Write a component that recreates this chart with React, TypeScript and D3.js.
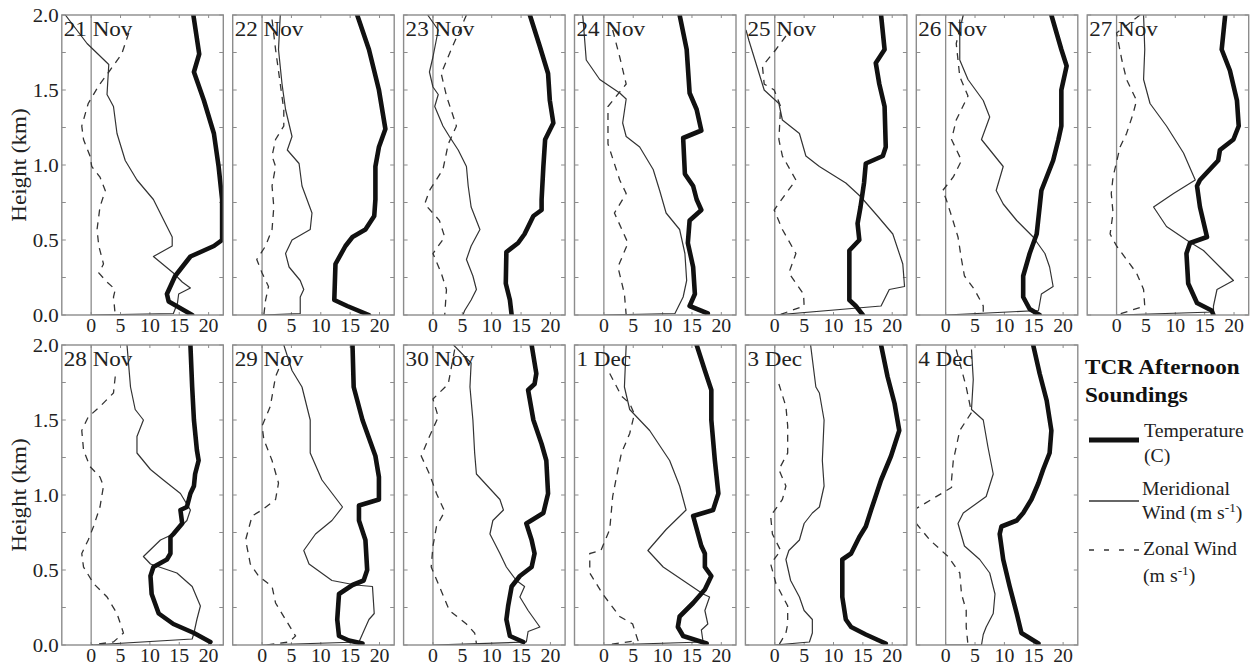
import * as d3 from "d3";

type Pt = [number, number]; // [height km, value]

// --- Data ---

const dates = [
  "21 Nov", "22 Nov", "23 Nov", "24 Nov", "25 Nov", "26 Nov", "27 Nov",
  "28 Nov", "29 Nov", "30 Nov", "1 Dec", "3 Dec", "4 Dec",
];

const xTicks = [0, 5, 10, 15, 20];
const yTicks = [0, 0.5, 1.0, 1.5, 2.0];

const temperature: Pt[][] = [
  [[2,17.4],[1.74,18.4],[1.62,17.5],[1.43,19.2],[1.21,20.9],[0.99,21.7],[0.77,22.3],[0.5,22.3],[0.46,20.9],[0.39,16.9],[0.32,15.5],[0.26,14.3],[0.14,12.9],[0.09,13.2],[0,17.2]],
  [[2,16.2],[1.77,18.2],[1.5,19.9],[1.24,21.0],[1.12,19.9],[0.99,19.3],[0.77,19.3],[0.66,19.1],[0.57,17.6],[0.52,15.4],[0.46,14.2],[0.34,12.5],[0.1,12.3],[0.06,14.5],[0,18.2]],
  [[2,16.5],[1.79,18.2],[1.61,19.6],[1.43,19.9],[1.28,20.5],[1.17,19.1],[0.99,18.8],[0.77,18.5],[0.7,18.5],[0.66,17.1],[0.54,15.6],[0.48,14.5],[0.42,12.5],[0.21,12.4],[0.1,13.1],[0,13.4]],
  [[2,12.9],[1.77,14.1],[1.48,14.6],[1.37,15.8],[1.23,16.6],[1.18,13.5],[0.94,13.8],[0.86,15.2],[0.77,15.8],[0.7,16.6],[0.63,14.6],[0.48,14.3],[0.32,15.2],[0.14,15.5],[0.06,14.6],[0.01,17.7]],
  [[2,18.1],[1.77,18.7],[1.68,17.2],[1.54,17.8],[1.39,18.7],[1.12,18.9],[1.06,18.4],[1.01,15.5],[0.88,15.2],[0.72,14.6],[0.61,14.1],[0.5,14.4],[0.43,12.7],[0.1,12.7],[0.06,13.8],[0,15.0]],
  [[2,18.0],[1.77,19.7],[1.66,20.6],[1.5,19.7],[1.26,19.7],[1.17,19.2],[1.03,18.3],[0.92,17.2],[0.83,16.3],[0.72,16.0],[0.54,15.5],[0.41,14.3],[0.26,13.2],[0.12,13.2],[0.04,14.3],[0,16.0]],
  [[2,18.5],[1.77,17.9],[1.63,19.3],[1.43,20.5],[1.26,20.8],[1.17,19.9],[1.1,17.6],[1.03,17.3],[0.9,14.2],[0.86,13.7],[0.72,14.2],[0.52,15.4],[0.48,12.5],[0.41,11.9],[0.21,12.2],[0.08,13.7],[0.03,16.2],[0,16.5]],
  [[2,16.9],[1.72,17.2],[1.5,17.5],[1.3,18.0],[1.23,18.3],[1.14,17.7],[1.06,17.5],[1.01,16.9],[0.92,16.3],[0.9,15.2],[0.81,15.5],[0.74,14.0],[0.72,13.5],[0.61,13.5],[0.57,12.9],[0.52,10.6],[0.46,10.1],[0.34,10.3],[0.21,11.5],[0.14,14.0],[0.08,17.5],[0.02,20.3]],
  [[2,15.4],[1.72,15.6],[1.5,17.1],[1.26,19.3],[1.12,19.9],[0.97,19.9],[0.93,16.5],[0.83,16.5],[0.7,17.6],[0.5,17.9],[0.43,17.3],[0.4,15.4],[0.34,13.1],[0.17,12.8],[0.06,13.1],[0.03,14.8],[0.01,17.1]],
  [[2,16.8],[1.81,17.6],[1.74,17.3],[1.7,16.2],[1.5,17.1],[1.34,18.5],[1.23,19.3],[1.01,19.6],[0.88,18.8],[0.81,15.9],[0.7,16.8],[0.61,17.3],[0.52,16.8],[0.46,14.8],[0.39,13.4],[0.26,12.8],[0.17,12.5],[0.06,13.1],[0.02,15.4]],
  [[2,15.8],[1.83,17.2],[1.7,18.3],[1.5,18.3],[1.23,18.9],[1.01,19.5],[0.9,18.6],[0.86,15.2],[0.66,16.6],[0.61,17.2],[0.52,17.2],[0.46,18.3],[0.37,17.2],[0.28,15.2],[0.19,12.9],[0.12,12.6],[0.06,13.5],[0.01,17.5]],
  [[2,18.1],[1.79,19.2],[1.61,20.4],[1.43,21.2],[1.26,19.8],[1.1,18.1],[0.97,17.0],[0.9,16.4],[0.79,15.5],[0.72,14.4],[0.61,13.0],[0.57,11.5],[0.32,11.5],[0.17,12.1],[0.12,13.0],[0.07,15.5],[0.01,18.9]],
  [[2,14.9],[1.81,16.0],[1.63,17.2],[1.43,18.0],[1.28,17.7],[1.17,16.6],[1.08,15.8],[0.97,14.6],[0.88,13.2],[0.83,12.1],[0.79,9.5],[0.74,9.2],[0.57,9.8],[0.39,10.9],[0.21,12.1],[0.08,12.9],[0.01,15.8]],
];

const meridional: Pt[][] = [
  [[2,-4.4],[1.81,-0.7],[1.67,3.0],[1.47,2.7],[1.39,3.8],[1.21,4.4],[1.03,5.8],[0.9,7.8],[0.77,10.6],[0.59,12.9],[0.52,13.8],[0.46,13.8],[0.39,10.6],[0.28,14.0],[0.22,15.5],[0.18,16.9],[0.14,14.9],[0.08,14.7],[0.01,14.0],[0,0]],
  [[2,3.1],[1.77,2.8],[1.54,3.4],[1.37,4.0],[1.19,5.1],[1.1,4.3],[1.01,6.3],[0.86,6.8],[0.68,8.5],[0.57,8.2],[0.5,5.1],[0.41,4.0],[0.32,4.6],[0.23,6.5],[0.17,7.1],[0.12,6.5],[0.01,6.5],[0,0]],
  [[2,-0.9],[1.9,0.9],[1.72,0],[1.62,-0.6],[1.52,0],[1.47,0.9],[1.39,0.3],[1.26,1.7],[1.19,2.8],[1.1,4.3],[0.99,5.7],[0.86,6.0],[0.72,6.5],[0.57,8.0],[0.46,6.5],[0.37,5.7],[0.26,6.8],[0.17,7.4],[0.1,6.5],[0.03,5.4],[0,5.1]],
  [[2,-3.6],[1.7,-3.0],[1.57,-0.7],[1.48,2.7],[1.44,3.8],[1.28,3.2],[1.19,3.8],[1.12,6.1],[0.97,8.4],[0.83,9.5],[0.68,10.6],[0.57,12.9],[0.41,13.8],[0.23,14.1],[0.12,13.5],[0.01,12.1],[0,0]],
  [[1.9,-4.9],[1.83,-4.4],[1.5,-1.8],[1.41,0.7],[1.3,1.3],[1.21,4.2],[1.06,5.3],[0.99,7.6],[0.88,12.1],[0.79,14.6],[0.66,17.5],[0.54,20.1],[0.34,21.8],[0.19,22.1],[0.17,19.5],[0.06,18.1],[0,0]],
  [[1.97,2.4],[1.7,2.4],[1.57,3.8],[1.43,6.4],[1.32,7.5],[1.17,6.1],[0.99,9.8],[0.83,8.6],[0.74,9.8],[0.63,12.1],[0.52,14.9],[0.41,16.9],[0.32,17.7],[0.19,18.3],[0.14,16.3],[0.03,15.8],[0,0]],
  [[2,4.6],[1.77,4.8],[1.57,4.6],[1.41,5.7],[1.26,8.5],[1.08,11.4],[0.9,13.4],[0.81,9.7],[0.72,6.3],[0.59,8.5],[0.5,11.9],[0.43,14.8],[0.32,17.6],[0.23,19.9],[0.17,17.1],[0.06,16.5],[0.02,16.5],[0,0]],
  [[2,6.1],[1.72,6.7],[1.57,7.5],[1.5,8.9],[1.39,7.8],[1.28,7.8],[1.17,10.1],[1.1,12.3],[1.01,15.2],[0.9,16.9],[0.83,16.3],[0.74,14.0],[0.7,11.8],[0.59,8.9],[0.54,10.1],[0.48,14.6],[0.39,17.2],[0.26,18.6],[0.17,18.0],[0.08,17.5],[0.04,17.2],[0,0]],
  [[2,3.7],[1.83,5.1],[1.72,6.8],[1.5,8.2],[1.28,8.2],[1.1,10.2],[0.92,13.7],[0.83,11.9],[0.74,9.1],[0.63,7.1],[0.54,8.0],[0.43,11.9],[0.4,15.9],[0.39,18.8],[0.21,19.1],[0.17,18.2],[0.1,17.4],[0.02,16.5],[0,0]],
  [[2,3.5],[1.88,6.5],[1.72,6.3],[1.5,6.8],[1.28,7.1],[1.14,7.4],[0.97,11.4],[0.9,12.0],[0.83,10.2],[0.74,9.7],[0.61,11.4],[0.52,12.5],[0.43,14.2],[0.39,15.6],[0.32,14.8],[0.23,16.2],[0.12,18.2],[0.09,16.2],[0.02,15.9],[0,0]],
  [[2,3.8],[1.72,3.5],[1.57,4.4],[1.43,7.8],[1.23,11.2],[1.06,12.9],[0.9,14.0],[0.77,10.6],[0.63,7.5],[0.52,10.1],[0.43,13.5],[0.34,16.9],[0.32,18.0],[0.23,17.2],[0.14,17.7],[0.1,16.6],[0.02,16.9],[0,0]],
  [[2,6.1],[1.72,7.0],[1.68,7.6],[1.5,8.4],[1.23,8.1],[1.06,8.4],[0.92,7.6],[0.88,6.4],[0.81,5.0],[0.7,4.2],[0.63,2.4],[0.57,1.9],[0.43,2.7],[0.32,4.2],[0.23,5.0],[0.17,6.4],[0.08,6.4],[0.02,5.9],[0,0]],
  [[1.97,4.4],[1.77,4.7],[1.57,4.4],[1.5,6.4],[1.32,7.2],[1.14,8.1],[0.99,6.9],[0.88,3.0],[0.81,2.1],[0.66,3.2],[0.57,5.8],[0.48,7.5],[0.34,8.4],[0.21,8.1],[0.12,6.9],[0.07,6.4],[0,6.1],[0,0]],
];

const zonal: Pt[][] = [
  [[1.88,6.4],[1.74,5.2],[1.62,3.0],[1.53,1.3],[1.41,-0.5],[1.26,-1.6],[1.17,-1.3],[1.06,-0.2],[0.99,0.1],[0.92,1.5],[0.83,2.4],[0.72,1.5],[0.57,1.0],[0.46,1.3],[0.34,2.1],[0.28,1.3],[0.22,2.7],[0.17,4.1],[0.12,3.8],[0,4.1]],
  [[1.97,1.7],[1.77,2.3],[1.54,3.1],[1.37,3.7],[1.26,3.7],[1.17,2.3],[1.06,1.7],[0.99,2.3],[0.86,1.7],[0.72,2.0],[0.57,1.7],[0.46,0.6],[0.37,-0.9],[0.28,0],[0.19,1.1],[0.1,0.6],[0,0.3]],
  [[2,5.7],[1.77,3.1],[1.61,1.4],[1.46,2.3],[1.26,4.0],[1.14,2.6],[0.97,1.7],[0.83,-0.6],[0.74,-1.4],[0.63,1.1],[0.52,2.0],[0.41,0],[0.28,1.4],[0.17,2.3],[0,2.0]],
  [[1.9,1.5],[1.72,2.7],[1.54,3.8],[1.39,0.7],[1.14,0.7],[0.9,2.7],[0.81,3.8],[0.68,1.8],[0.48,4.1],[0.32,2.4],[0.14,3.5],[0,3.8]],
  [[1.86,1.9],[1.77,0.2],[1.66,-2.1],[1.54,-1.8],[1.5,-0.1],[1.39,1.0],[1.17,0.7],[1.06,1.3],[0.9,3.6],[0.81,1.9],[0.7,-0.1],[0.57,1.3],[0.41,3.6],[0.28,2.4],[0.14,4.9],[0.06,5.0],[0,0.7]],
  [[2,3.0],[1.81,1.8],[1.59,2.4],[1.46,3.8],[1.3,1.8],[1.17,1.0],[1.03,2.7],[0.92,1.3],[0.83,-0.5],[0.77,0.1],[0.66,1.0],[0.52,2.1],[0.37,2.7],[0.26,3.2],[0.17,4.9],[0.06,6.4],[0,6.4]],
  [[2,4.0],[1.88,0],[1.7,0.9],[1.57,1.7],[1.43,3.4],[1.34,2.8],[1.21,1.7],[1.12,0.6],[0.92,-0.6],[0.81,-0.9],[0.68,-0.6],[0.54,-1.1],[0.46,0],[0.37,1.7],[0.28,3.4],[0.17,4.6],[0.06,4.8],[0,0]],
  [[1.79,4.1],[1.68,3.8],[1.59,1.5],[1.52,-0.5],[1.43,-1.6],[1.3,-1.3],[1.19,-0.2],[1.12,1.5],[1.06,2.1],[0.92,1.5],[0.79,0.4],[0.7,-0.5],[0.61,-1.6],[0.52,-1.3],[0.41,0.4],[0.32,2.7],[0.21,4.4],[0.08,5.5],[0.02,3.8],[0,0]],
  [[1.92,3.7],[1.79,2.3],[1.59,1.4],[1.46,0],[1.37,0.3],[1.23,1.7],[1.08,2.8],[0.97,2.3],[0.9,0],[0.86,-1.7],[0.7,-2.8],[0.54,-2.0],[0.46,-0.6],[0.39,1.7],[0.28,2.3],[0.17,4.0],[0.06,5.7],[0.02,4.6],[0,0.6]],
  [[1.97,3.7],[1.74,2.6],[1.64,0],[1.52,0.9],[1.39,-0.6],[1.26,-2.0],[1.14,-0.6],[1.01,0.6],[0.89,2.0],[0.79,0.6],[0.66,0],[0.52,-0.3],[0.39,1.1],[0.23,2.8],[0.14,5.7],[0.08,7.1],[0.01,7.4]],
  [[1.81,1.0],[1.66,3.0],[1.61,4.4],[1.54,5.2],[1.41,4.4],[1.28,3.0],[1.17,2.4],[0.99,1.5],[0.77,1.0],[0.63,-0.5],[0.61,-2.4],[0.48,-2.4],[0.34,-0.2],[0.19,2.7],[0.14,4.9],[0.03,5.8],[0,0.4]],
  [[1.74,0.7],[1.59,1.9],[1.46,2.2],[1.28,2.2],[1.17,0.7],[1.06,1.9],[0.97,1.3],[0.86,-0.7],[0.74,-0.4],[0.63,1.0],[0.54,-0.7],[0.41,0.2],[0.26,2.2],[0.14,2.2],[0.08,1.9],[0,0.7]],
  [[1.97,1.8],[1.72,3.5],[1.55,4.4],[1.43,2.4],[1.23,1.3],[1.1,1.0],[1.05,1.0],[0.91,-5.0],[0.87,-6.5],[0.81,-5.0],[0.7,-2.7],[0.59,0.4],[0.48,2.4],[0.34,2.7],[0.23,3.5],[0.12,3.5],[0,3.8]],
];

// --- Layout ---

const PANEL = {
  left0: 61.8,
  step: 170.9,
  width: 161.5,
  height: 300,
  rowTops: [15, 345],
  perRow: 7,
};

const FONT = "'Liberation Serif', 'Times New Roman', serif";
const SX = 1.1; // the picture's text is a bit wide

const x = d3.scaleLinear().domain([-5, 22.5]).range([0, PANEL.width]);
const y = d3.scaleLinear().domain([0, 2]).range([PANEL.height, 0]);

const line = d3
  .line<Pt>()
  .x((d) => x(d[1]))
  .y((d) => y(d[0]));

const tr = (tx: number, ty: number) => `translate(${tx},${ty}) scale(${SX},1)`;

function Panel({ i }: { i: number }) {
  const col = i % PANEL.perRow;
  const row = Math.floor(i / PANEL.perRow);
  const left = PANEL.left0 + col * PANEL.step;
  const top = PANEL.rowTops[row];
  const clipId = `clip-${i}`;
  const minor = d3.range(0, 2.0001, 0.25);

  return (
    <g transform={`translate(${left},${top})`}>
      <defs>
        <clipPath id={clipId}>
          <rect x={0} y={0} width={PANEL.width} height={PANEL.height} />
        </clipPath>
      </defs>
      {/* zero line */}
      <line x1={x(0)} x2={x(0)} y1={0} y2={PANEL.height} stroke="#8c8c8c" strokeWidth={1.3} />
      {/* ticks */}
      {minor.map((h) => (
        <g key={h}>
          <line x1={0} x2={4} y1={y(h)} y2={y(h)} stroke="#8c8c8c" />
          <line x1={PANEL.width - 4} x2={PANEL.width} y1={y(h)} y2={y(h)} stroke="#8c8c8c" />
        </g>
      ))}
      {xTicks.map((t) => (
        <g key={t}>
          <line x1={x(t)} x2={x(t)} y1={0} y2={3} stroke="#8c8c8c" />
          <line x1={x(t)} x2={x(t)} y1={PANEL.height - 3} y2={PANEL.height} stroke="#8c8c8c" />
          <text
            transform={tr(x(t), PANEL.height + 17)}
            textAnchor="middle"
            fontSize={18}
            fontFamily={FONT}
            fill="#222"
          >
            {t}
          </text>
        </g>
      ))}
      <g clipPath={`url(#${clipId})`}>
        <path d={line(zonal[i]) ?? ""} fill="none" stroke="#333" strokeWidth={1.3} strokeDasharray="7,6" />
        <path d={line(meridional[i]) ?? ""} fill="none" stroke="#333" strokeWidth={1.2} strokeLinejoin="round" />
        <path d={line(temperature[i]) ?? ""} fill="none" stroke="#111" strokeWidth={4.6} strokeLinejoin="round" strokeLinecap="round" />
      </g>
      <rect x={0} y={0} width={PANEL.width} height={PANEL.height} fill="none" stroke="#8c8c8c" strokeWidth={1.4} />
      <text transform={tr(2, 21)} fontSize={21} fontFamily={FONT} fill="#222">
        {dates[i]}
      </text>
      {col === 0 &&
        yTicks.map((t) => (
          <text
            key={t}
            transform={tr(-3, y(t) + 7)}
            textAnchor="end"
            fontSize={19}
            fontFamily={FONT}
            fill="#222"
          >
            {t.toFixed(1)}
          </text>
        ))}
      {col === 0 && (
        <text
          transform={`translate(-36,${PANEL.height / 2}) rotate(-90) scale(${SX},1)`}
          textAnchor="middle"
          fontSize={21}
          fontFamily={FONT}
          fill="#222"
        >
          Height (km)
        </text>
      )}
    </g>
  );
}

function Legend() {
  const lx0 = 1089;
  const lx1 = 1139;
  const tx = 1144;
  const sup = (s: string) => (
    <tspan fontSize={12} dy={-7}>
      {s}
    </tspan>
  );
  return (
    <g fontFamily={FONT} fill="#222">
      <text transform={tr(1085, 374)} fontSize={21} fontWeight="bold" fill="#111">
        TCR Afternoon
      </text>
      <text transform={tr(1085, 402)} fontSize={21} fontWeight="bold" fill="#111">
        Soundings
      </text>

      <line x1={lx0} x2={lx1} y1={440} y2={440} stroke="#111" strokeWidth={5} />
      <text transform={tr(tx, 437)} fontSize={18}>Temperature</text>
      <text transform={tr(tx, 462)} fontSize={18}>(C)</text>

      <line x1={lx0} x2={lx1} y1={501} y2={501} stroke="#333" strokeWidth={1.3} />
      <text transform={tr(tx - 2, 495)} fontSize={18}>Meridional</text>
      <text transform={tr(tx - 2, 519)} fontSize={18}>
        Wind (m s{sup("-1")}
        <tspan dy={7}>)</tspan>
      </text>

      <line x1={lx0} x2={lx1 + 1} y1={550} y2={550} stroke="#333" strokeWidth={1.3} strokeDasharray="5,10" />
      <text transform={tr(tx - 1, 555)} fontSize={18}>Zonal Wind</text>
      <text transform={tr(tx - 1, 582)} fontSize={18}>
        (m s{sup("-1")}
        <tspan dy={7}>)</tspan>
      </text>
    </g>
  );
}

export default function App() {
  return (
    <svg
      width={1260}
      height={665}
      style={{ position: "absolute", left: 0, top: 0, background: "#fff" }}
    >
      <rect width={1260} height={665} fill="#fff" />
      {dates.map((_, i) => (
        <Panel key={i} i={i} />
      ))}
      <Legend />
    </svg>
  );
}
